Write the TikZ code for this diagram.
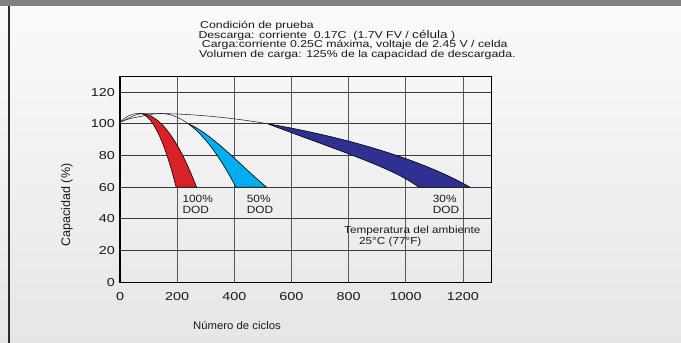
\documentclass[tikz,border=0pt]{standalone}
\usepackage{fontspec}
\setmainfont{Liberation Sans}
\usepackage{graphicx}
\usetikzlibrary{calc}
\definecolor{topband}{HTML}{7B8385}
\definecolor{leftbar}{HTML}{2B2B2B}
\definecolor{bgtop}{HTML}{FAFAFA}
\definecolor{bgbot}{HTML}{E6E6E6}
\definecolor{dodred}{HTML}{DA2128}
\definecolor{dodcyan}{HTML}{00AEEF}
\definecolor{dodnavy}{HTML}{2E3192}
\definecolor{gridc}{HTML}{3A3A3A}
\definecolor{txtc}{HTML}{1A1A1A}
\newcommand{\wide}[2]{\scalebox{#1}[1]{#2}}
\begin{document}
\begin{tikzpicture}[x=1pt,y=1pt,
  tick/.style={font=\fontsize{11.5}{12}\selectfont, inner sep=0pt, text=txtc},
  ttl/.style={font=\fontsize{10}{11}\selectfont, inner sep=0pt, anchor=base west, text=txtc},
  lbl/.style={font=\fontsize{10.5}{11}\selectfont, inner sep=0pt, anchor=base west, text=txtc},
  axlbl/.style={font=\fontsize{11}{12}\selectfont, inner sep=0pt, text=txtc},
  gridv/.style={draw=gridc!85, line width=0.8pt},
  gridh/.style={draw=gridc, line width=0.9pt},
  frame/.style={draw=black, line width=1.1pt},
  thin/.style={draw=black!85, line width=0.55pt},
  band/.style={draw=black, line width=0.6pt, line join=round}]
\useasboundingbox (0,0) rectangle (681,343);
\shade[top color=bgtop, bottom color=bgbot] (0,0) rectangle (681,337);
\fill[topband] (0,337) rectangle (681,343);
\fill[leftbar] (8,0) rectangle (10,337);

% title block
\node[ttl] (t1) at (200,314) {\wide{1.23}{Condición de prueba}};
\node[ttl] (t2) at (198.3,304.3) {\wide{1.23}{Descarga: corriente\ \ 0.17C\ \ (1.7V FV / {\fontsize{11}{12}\selectfont célula} )}};
\node[ttl] (t3) at (201.7,295) {\wide{1.23}{Carga:corriente 0.25C máxima, voltaje de 2.45 V / celda}};
\node[ttl] (t4) at (199,285.5) {\wide{1.23}{Volumen de carga: 125\% de la capacidad de descargada.}};

\begin{scope}[shift={(120,60.7)}, x=28.575pt, y=1.585pt]
  % grid
  \foreach \i in {2,4,...,12} \draw[gridv] (\i,0) -- (\i,130);
  \foreach \j in {20,40,...,120} \draw[gridh] (0,\j) -- (13,\j);
  \draw[frame] (0,0) rectangle (13,130);
  % tick labels
  \foreach \j in {0,20,...,120}
    \node[tick, anchor=east] (y\j) at (-0.175,\j) {\wide{1.25}{\j}};
  \foreach \i/\t in {0/0,2/200,4/400,6/600,8/800,10/1000,12/1200}
    \node[tick, anchor=north, yshift=-10.4pt] (x\i) at (\i,0) {\wide{1.25}{\t}};

  % red band (100% DOD)
  \filldraw[band, fill=dodred]
    plot[domain=0.66:1.964, samples=30] (\x,{106.6-27.4*(\x-0.66)*(\x-0.66)})
    -- (2.68,60)
    -- plot[domain=2.68:0.93, samples=30] (\x,{106.6-11.9*(\x-0.70)*(\x-0.70)})
    -- cycle;
  % cyan band (50% DOD)
  \filldraw[band, fill=dodcyan]
    plot[domain=2.392:4.054, samples=30] (\x,{106.5-6.6*(\x-1.4)*(\x-1.4)})
    -- (5.13,60) .. controls (4.2,74) and (3.2,94) .. (2.392,100) -- cycle;
  % navy band (30% DOD)
  \coordinate (ntip) at (5.17,100);
  \coordinate (nr) at (12.25,60);
  \coordinate (nl) at (10.45,60);
  \filldraw[band, fill=dodnavy]
    (ntip) .. controls (8,91.3) and (10.6,77) .. (nr)
    -- (nl) .. controls (9.6,72) and (7.5,84) .. (ntip) -- cycle;

  % thin curves from the start
  \coordinate (s) at (0,101);
  \draw[thin] (s) .. controls (0.2,104.5) and (0.4,106.6) .. (0.66,106.6);
  \draw[thin] (s) .. controls (0.3,103.8) and (0.8,104.7) .. (1.1,105.9)
    -- plot[domain=1.1:2.392, samples=20] (\x,{106.5-6.6*(\x-1.4)*(\x-1.4)});
  \draw[thin] (s) .. controls (0.3,103) and (0.5,106.6) .. (0.9,106.6)
    -- plot[domain=0.9:5.17, samples=30] (\x,{106.6-0.362*(\x-0.9)*(\x-0.9)});
\end{scope}

% DOD labels
\node[lbl] (d1a) at (182.3,140.3) {\wide{1.13}{100\%}};
\node[lbl] (d1b) at (182.3,129.7) {\wide{1.13}{DOD}};
\node[lbl] (d2a) at (246.7,140.3) {\wide{1.13}{50\%}};
\node[lbl] (d2b) at (246.7,129.7) {\wide{1.13}{DOD}};
\node[lbl] (d3a) at (432.7,140.3) {\wide{1.13}{30\%}};
\node[lbl] (d3b) at (432.7,129.7) {\wide{1.13}{DOD}};
\node[lbl, font=\fontsize{10.2}{11}\selectfont] (tp1) at (344,109.7) {\wide{1.15}{Temperatura del ambiente}};
\node[lbl, font=\fontsize{10.2}{11}\selectfont] (tp2) at (359,98) {\wide{1.15}{25°C (77°F)}};

% axis titles
\node[axlbl, rotate=90, font=\fontsize{12.5}{13}\selectfont] (ylab) at (67,138) {Capacidad (\%)};
\node[axlbl, anchor=base] (xlab) at (237,13.7) {\wide{1.03}{Número de ciclos}};
\end{tikzpicture}
\end{document}
